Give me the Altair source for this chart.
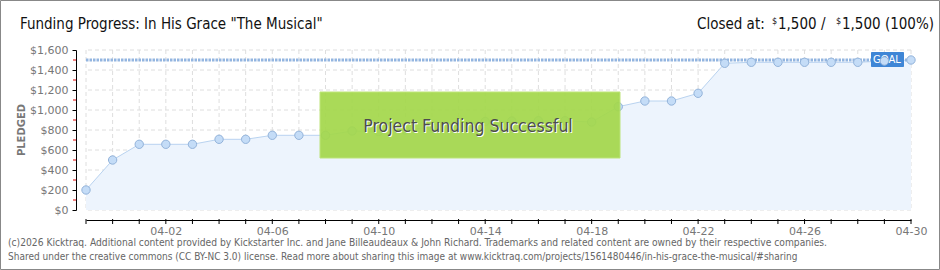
import altair as alt
import pandas as pd

# ---- data ----
dates = pd.date_range("2026-03-30", "2026-04-30", freq="D").strftime("%Y-%m-%d").tolist()
pledged = [200, 500, 657, 657, 657, 707, 707, 747, 747, 747, 790, 785, 800, 830,
           860, 885, 890, 893, 893, 880, 1033, 1090, 1090, 1167, 1467, 1477,
           1477, 1477, 1477, 1477, 1490, 1500]
goal = [1500]
x_labels = ["2026-04-02", "2026-04-06", "2026-04-10", "2026-04-14",
            "2026-04-18", "2026-04-22", "2026-04-26", "2026-04-30"]
y_major = [0, 200, 400, 600, 800, 1000, 1200, 1400, 1600]
y_minor = [100, 300, 500, 700, 900, 1100, 1300, 1500]

title_text = 'Funding Progress: In His Grace "The Musical"'
closed_parts = ["Closed at:", "$", "1,500 /", "$", "1,500 (100%)"]
banner_text = "Project Funding Successful"
footer1 = ("(c)2026 Kicktraq. Additional content provided by Kickstarter Inc. and Jane Billeaudeaux & "
           "John Richard. Trademarks and related content are owned by their respective companies.")
footer2 = ("Shared under the creative commons (CC BY-NC 3.0) license. Read more about sharing this image "
           "at www.kicktraq.com/projects/1561480446/in-his-grace-the-musical/#sharing")

df = pd.DataFrame({"date": dates, "pledged": pledged})
grid_x = pd.DataFrame({"date": dates})
grid_y = pd.DataFrame({"pledged": y_major})
minor_df = pd.DataFrame({"pledged": y_minor})
goal_df = pd.DataFrame({"pledged": goal})
one = pd.DataFrame({"k": [0]})

COND = "DejaVu Sans Condensed, DejaVu Sans, sans-serif"
FONT = "DejaVu Sans, sans-serif"
W, H = 825, 160


def ms(d):
    return int(pd.Timestamp(d, tz="UTC").value // 10**6)


xs = alt.Scale(type="utc", domain=[ms(dates[0]), ms(dates[-1])])
ys = alt.Scale(domain=[0, 1600], nice=False)

x_axis = alt.Axis(
    values=[ms(d) for d in x_labels],
    labelExpr="utcFormat(datum.value, '%m-%d')",
    offset=10, grid=False, domainColor="#000", ticks=False,
    labelColor="#777", labelFont=FONT, labelFontSize=11, labelPadding=5,
    title=None, labelFlush=False, labelOverlap=False,
)
y_axis = alt.Axis(
    values=y_major, labelExpr="'$' + format(datum.value, ',')", offset=10, grid=False,
    domainColor="#000", tickColor="#000", tickSize=4, labelOverlap=False,
    labelColor="#777", labelFont=FONT, labelFontSize=11, labelPadding=4, title=None,
)


def X():
    return alt.X("date:T", scale=xs, axis=x_axis)


def Y():
    return alt.Y("pledged:Q", scale=ys, axis=y_axis)


gx = alt.Chart(grid_x).mark_rule(color="#dedede", strokeDash=[4, 3], strokeWidth=1).encode(x=X())
gy = alt.Chart(grid_y).mark_rule(color="#dedede", strokeDash=[4, 3], strokeWidth=1).encode(y=Y())
day_ticks = alt.Chart(grid_x).mark_rule(color="#000", strokeWidth=1).encode(
    x=X(), y=alt.value(169), y2=alt.value(174))

area = alt.Chart(df).mark_area(color="#edf4fd", opacity=1).encode(x=X(), y=Y())
line = alt.Chart(df).mark_line(color="#b9d3f0", strokeWidth=1).encode(x=X(), y=Y())
pts = alt.Chart(df).mark_point(filled=True, size=70, fill="#c4dcf7", stroke="#93b3da",
                               strokeWidth=1, opacity=1, shape="circle").encode(x=X(), y=Y())

goal_line = alt.Chart(goal_df).mark_rule(color="#93b5e0", strokeWidth=3, strokeDash=[2.5, 1]).encode(y=Y())

minor = alt.Chart(minor_df).mark_rule(color="#e00000", strokeWidth=1).encode(
    y=Y(), x=alt.value(-13), x2=alt.value(-10))

goal_box = alt.Chart(one).mark_rect(fill="#3f86d6", cornerRadius=1).encode(
    x=alt.value(785), x2=alt.value(818), y=alt.value(2), y2=alt.value(17))
goal_txt = alt.Chart(one).mark_text(text="GOAL", color="white", font=FONT, fontSize=10,
                                    align="center", baseline="middle").encode(
    x=alt.value(801), y=alt.value(10))

banner = alt.Chart(one).mark_rect(fill="#a4d84c", opacity=0.93, stroke="#b9e36f", strokeWidth=1).encode(
    x=alt.value(234), x2=alt.value(534), y=alt.value(42), y2=alt.value(108))
banner_shadow = alt.Chart(one).mark_text(text=banner_text, color="white", font=COND, fontSize=17.5,
                                         align="center", baseline="middle").encode(
    x=alt.value(383), y=alt.value(78))
banner_txt = alt.Chart(one).mark_text(text=banner_text, color="#4d4d4d", font=COND, fontSize=17.5,
                                      align="center", baseline="middle").encode(
    x=alt.value(382), y=alt.value(77))

title = alt.Chart(one).mark_text(text=title_text, color="#111", font=COND, fontSize=15,
                                 align="left", baseline="alphabetic").encode(
    x=alt.value(-66), y=alt.value(-21))

closed_x = [611, 686, 692, 750, 756]
closed_size = [15, 9, 15, 9, 15]
closed_y = [-21, -26, -21, -26, -21]
closed_layers = [
    alt.Chart(one).mark_text(text=t, color="#111", font=COND, fontSize=s,
                             align="left", baseline="alphabetic").encode(
        x=alt.value(cx), y=alt.value(cy))
    for t, cx, s, cy in zip(closed_parts, closed_x, closed_size, closed_y)
]

pledged_lbl = alt.Chart(one).mark_text(text="PLEDGED", color="#777", font=FONT, fontSize=10,
                                       fontWeight="bold", angle=270, align="center",
                                       baseline="middle").encode(
    x=alt.value(-64), y=alt.value(80))
f1 = alt.Chart(one).mark_text(text=footer1, color="#666", font=COND, fontSize=10.2,
                              align="left", baseline="middle").encode(
    x=alt.value(-78), y=alt.value(193))
f2 = alt.Chart(one).mark_text(text=footer2, color="#666", font=COND, fontSize=10,
                              align="left", baseline="middle").encode(
    x=alt.value(-78), y=alt.value(207))

border = alt.Chart(one).mark_rect(fill=None, stroke="#888", strokeWidth=1).encode(
    x=alt.value(-85.5), x2=alt.value(853.5), y=alt.value(-49.5), y2=alt.value(219.5))

chart = alt.layer(
    gx, gy, area, line, goal_line, goal_box, goal_txt, pts, banner, banner_shadow, banner_txt,
    minor, day_ticks, title, *closed_layers, pledged_lbl, f1, f2, border
).properties(
    width=W, height=H,
    autosize=alt.AutoSizeParams(type="none"),
    padding={"left": 86, "top": 50, "right": 29, "bottom": 60},
    background="white",
).configure_view(stroke=None).configure_axis(labelOverlap=False)

chart.save("out.html", embed_options={"renderer": "svg", "actions": False})
